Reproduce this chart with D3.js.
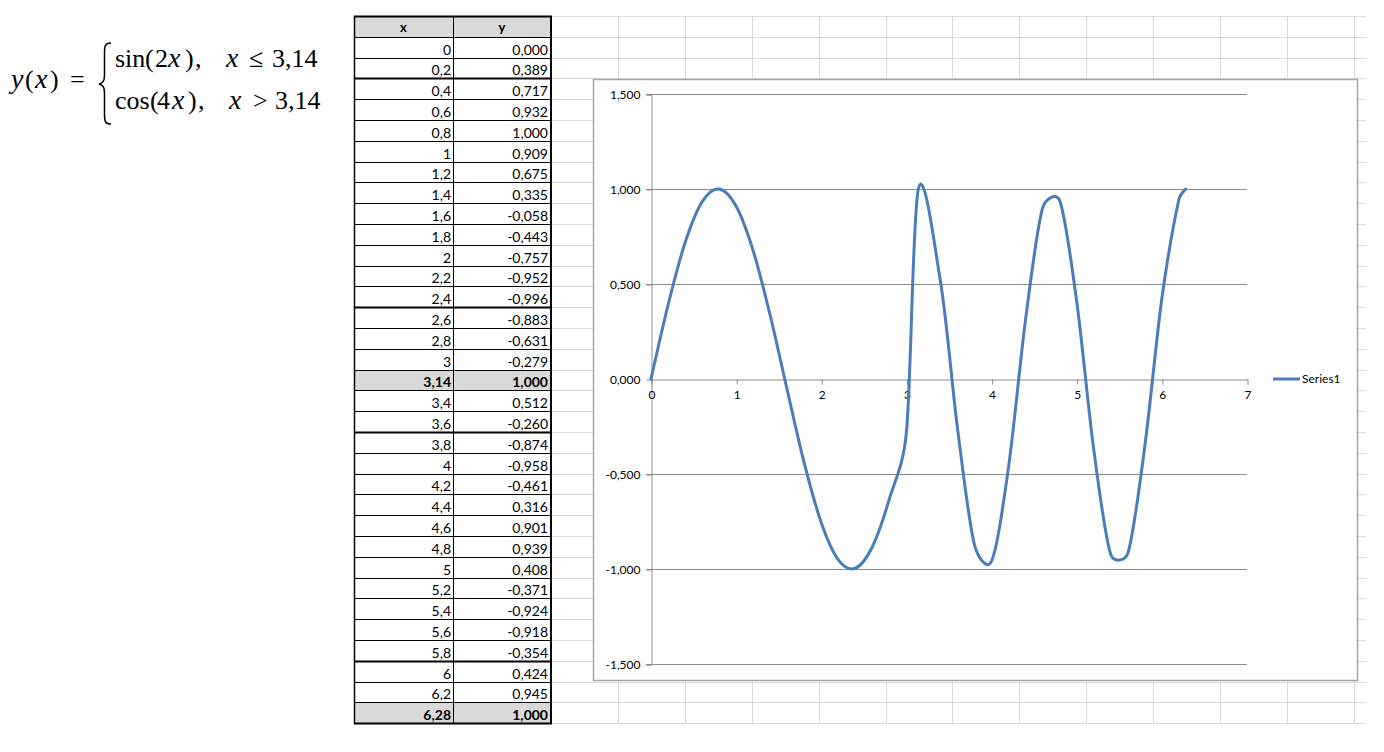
<!DOCTYPE html>
<html><head><meta charset="utf-8">
<script src="https://cdn.jsdelivr.net/npm/d3@7"></script>
<style>
html,body{margin:0;padding:0;background:#fff;}
svg{display:block;}
</style></head>
<body>
<svg id="c" width="1384" height="752"></svg>
<script>
// ---- data ----
const xValues = [0,0.2,0.4,0.6,0.8,1,1.2,1.4,1.6,1.8,2,2.2,2.4,2.6,2.8,3,3.14,3.4,3.6,3.8,4,4.2,4.4,4.6,4.8,5,5.2,5.4,5.6,5.8,6,6.2,6.28];
const xLabels = ["0","0,2","0,4","0,6","0,8","1","1,2","1,4","1,6","1,8","2","2,2","2,4","2,6","2,8","3","3,14","3,4","3,6","3,8","4","4,2","4,4","4,6","4,8","5","5,2","5,4","5,6","5,8","6","6,2","6,28"];
const yValues = [0.000,0.389,0.717,0.932,1.000,0.909,0.675,0.335,-0.058,-0.443,-0.757,-0.952,-0.996,-0.883,-0.631,-0.279,1.000,0.512,-0.260,-0.874,-0.958,-0.461,0.316,0.901,0.939,0.408,-0.371,-0.924,-0.918,-0.354,0.424,0.945,1.000];
const highlightRows = ["3,14","6,28"];
const thickAfter = ["0,2","2,4","3,6","5,8"];
const headers = ["x","y"];
const yTicks = [-1.5,-1,-0.5,0,0.5,1,1.5];
const xTicks = [0,1,2,3,4,5,6,7];
const seriesName = "Series1";

const svg = d3.select("#c");
const FONT = "Lato, 'Open Sans', sans-serif";

// ---- spreadsheet grid ----
const rowTop = 16, rowH = 20.8, nRows = 34;
const gridLeft = 551, gridRight = 1366, colW = 66.9;
const gGrid = svg.append("g");
for (let i = 0; i <= nRows; i++) {
  const y = Math.round(rowTop + i*rowH) + 0.5;
  gGrid.append("line").attr("x1", gridLeft).attr("x2", gridRight).attr("y1", y).attr("y2", y)
    .attr("stroke", "#d9d9d9").attr("stroke-width", 1);
}
for (let k = 0; gridLeft + k*colW <= gridRight; k++) {
  const x = Math.round(gridLeft + k*colW) + 0.5;
  gGrid.append("line").attr("x1", x).attr("x2", x).attr("y1", rowTop).attr("y2", rowTop + nRows*rowH)
    .attr("stroke", "#d9d9d9").attr("stroke-width", 1);
}

// ---- table ----
const tL = 354, tM = 453, tR = 551;
const gT = svg.append("g");
const rY = i => Math.round(rowTop + i*rowH);
gT.append("rect").attr("x", tL).attr("y", rY(0)).attr("width", tR-tL).attr("height", rY(1)-rY(0)).attr("fill", "#d9d9d9");
headers.forEach((h, j) => {
  gT.append("text").attr("x", j === 0 ? (tL+tM)/2 : (tM+tR)/2).attr("y", rY(1)-5)
    .attr("text-anchor", "middle").attr("font-family", FONT).attr("font-size", 13).attr("font-weight", "bold").text(h);
});
xLabels.forEach((lab, i) => {
  const top = rY(i+1), bot = rY(i+2);
  const hl = highlightRows.includes(lab);
  if (hl) gT.append("rect").attr("x", tL).attr("y", top).attr("width", tR-tL).attr("height", bot-top).attr("fill", "#d9d9d9");
  gT.append("text").attr("x", tM-2).attr("y", bot-3).attr("text-anchor", "end")
    .attr("font-family", FONT).attr("font-size", 14).attr("font-weight", hl ? "bold" : "normal").text(lab);
  gT.append("text").attr("x", tR-3).attr("y", bot-3).attr("text-anchor", "end")
    .attr("font-family", FONT).attr("font-size", 14).attr("font-weight", hl ? "bold" : "normal")
    .text(d3.format(".3f")(yValues[i]).replace("−","-").replace(".", ","));
});
for (let i = 0; i <= nRows; i++) {
  const y = rY(i) + 0.5;
  const lab = i >= 2 ? xLabels[i-2] : null;
  const thick = (i === 0 || i === nRows || thickAfter.includes(lab));
  gT.append("line").attr("x1", tL).attr("x2", tR+1).attr("y1", y).attr("y2", y)
    .attr("stroke", "#000").attr("stroke-width", thick ? 2 : 1);
}
gT.append("line").attr("x1", tL+0.5).attr("x2", tL+0.5).attr("y1", rY(0)).attr("y2", rY(nRows)).attr("stroke", "#000").attr("stroke-width", 1.5);
gT.append("line").attr("x1", tM+0.5).attr("x2", tM+0.5).attr("y1", rY(0)).attr("y2", rY(nRows)).attr("stroke", "#000").attr("stroke-width", 1);
gT.append("line").attr("x1", tR).attr("x2", tR).attr("y1", rY(0)).attr("y2", rY(nRows)+1).attr("stroke", "#000").attr("stroke-width", 2);

// ---- formula ----
const gF = svg.append("g").attr("font-family", "'Liberation Serif', 'Times New Roman', serif").attr("font-size", 26);
const piece = (x, y, t, it) => gF.append("text").attr("x", x).attr("y", y)
  .attr("font-style", it ? "italic" : "normal").attr("font-size", it ? 28 : 26).text(t);
piece(11, 88, "y", true); piece(25, 88, "(", false); piece(35, 88, "x", true); piece(50, 88, ")", false); piece(70, 88, "=", false);
gF.append("path")
  .attr("d", "M111,43 C105,43 104.5,46 104.5,53 L104.5,75 C104.5,81 103,83 99,84 C103,85 104.5,87 104.5,93 L104.5,115 C104.5,121 105,124 111,124")
  .attr("fill", "none").attr("stroke", "#000").attr("stroke-width", 1.5);
piece(115, 67, "sin", false); piece(145, 67, "(", false); piece(155, 67, "2", false); piece(168, 67, "x", true);
piece(185, 67, ")", false); piece(195, 67, ",", false); piece(226, 67, "x", true); piece(249, 67, "≤", false); piece(272, 67, "3,14", false);
piece(115, 109, "cos", false); piece(150, 109, "(", false); piece(157, 109, "4", false); piece(172, 109, "x", true);
piece(188, 109, ")", false); piece(198, 109, ",", false); piece(229, 109, "x", true); piece(253, 109, ">", false); piece(275, 109, "3,14", false);

// ---- chart ----
const gC = svg.append("g");
gC.append("rect").attr("x", 593.5).attr("y", 79.5).attr("width", 764).attr("height", 601)
  .attr("fill", "#fff").attr("stroke", "#a6a6a6").attr("stroke-width", 1.5);

const xS = d3.scaleLinear().domain([0,7]).range([651,1247]);
const yS = d3.scaleLinear().domain([-1.5,1.5]).range([664,94]);

yTicks.forEach(t => {
  if (t === 0) return;
  gC.append("line").attr("x1", xS(0)-5).attr("x2", xS(7)).attr("y1", Math.round(yS(t))+0.5).attr("y2", Math.round(yS(t))+0.5)
    .attr("stroke", "#8c8c8c").attr("stroke-width", 1);
});
const yAxis = d3.axisLeft(yS).tickValues(yTicks).tickSize(5).tickPadding(6)
  .tickFormat(d => d3.format(".3f")(d).replace("−","-").replace(".", ","));
const gy = gC.append("g").attr("transform", `translate(${xS(0)+0.5},0.5)`).call(yAxis);
gy.select(".domain").attr("stroke", "#8c8c8c");
gy.selectAll(".tick line").attr("stroke", "#8c8c8c");
gy.selectAll("text").attr("font-family", FONT).attr("font-size", 12).attr("fill", "#000");
const xAxis = d3.axisBottom(xS).tickValues(xTicks).tickSize(5).tickPadding(6).tickSizeOuter(0).tickFormat(d3.format("d"));
const gx = gC.append("g").attr("transform", `translate(0.5,${Math.round(yS(0))+0.5})`).call(xAxis);
gx.select(".domain").attr("stroke", "#8c8c8c");
gx.selectAll(".tick line").attr("stroke", "#8c8c8c");
gx.selectAll("text").attr("font-family", FONT).attr("font-size", 12).attr("fill", "#000");

// Excel-style smoothed line: Bezier segments with tension 1/6, capped at half segment length
const P = xValues.map((x, i) => [xS(x), yS(yValues[i])]);
const dist = (a, b) => Math.hypot(b[0]-a[0], b[1]-a[1]);
const path = d3.path();
path.moveTo(P[0][0], P[0][1]);
for (let i = 0; i < P.length - 1; i++) {
  const p1 = P[i], p2 = P[i+1];
  const p0 = i > 0 ? P[i-1] : p1;
  const p3 = i < P.length - 2 ? P[i+2] : p2;
  const d12 = dist(p1, p2), d02 = dist(p0, p2), d13 = dist(p1, p3);
  const f0 = (d02/6 < d12/2) ? 1/6 : (d02 > 0 ? d12/(2*d02) : 0);
  const f1 = (d13/6 < d12/2) ? 1/6 : (d13 > 0 ? d12/(2*d13) : 0);
  path.bezierCurveTo(
    p1[0] + f0*(p2[0]-p0[0]), p1[1] + f0*(p2[1]-p0[1]),
    p2[0] - f1*(p3[0]-p1[0]), p2[1] - f1*(p3[1]-p1[1]),
    p2[0], p2[1]);
}
gC.append("path").attr("d", path.toString()).attr("fill", "none")
  .attr("stroke", "#4a7ebb").attr("stroke-width", 3).attr("stroke-linejoin", "round").attr("stroke-linecap", "round");

gC.append("line").attr("x1", 1273).attr("x2", 1300).attr("y1", yS(0)).attr("y2", yS(0))
  .attr("stroke", "#4a7ebb").attr("stroke-width", 3);
gC.append("text").attr("x", 1302).attr("y", yS(0)+4).attr("font-family", FONT).attr("font-size", 12).text(seriesName);
</script>
</body></html>
